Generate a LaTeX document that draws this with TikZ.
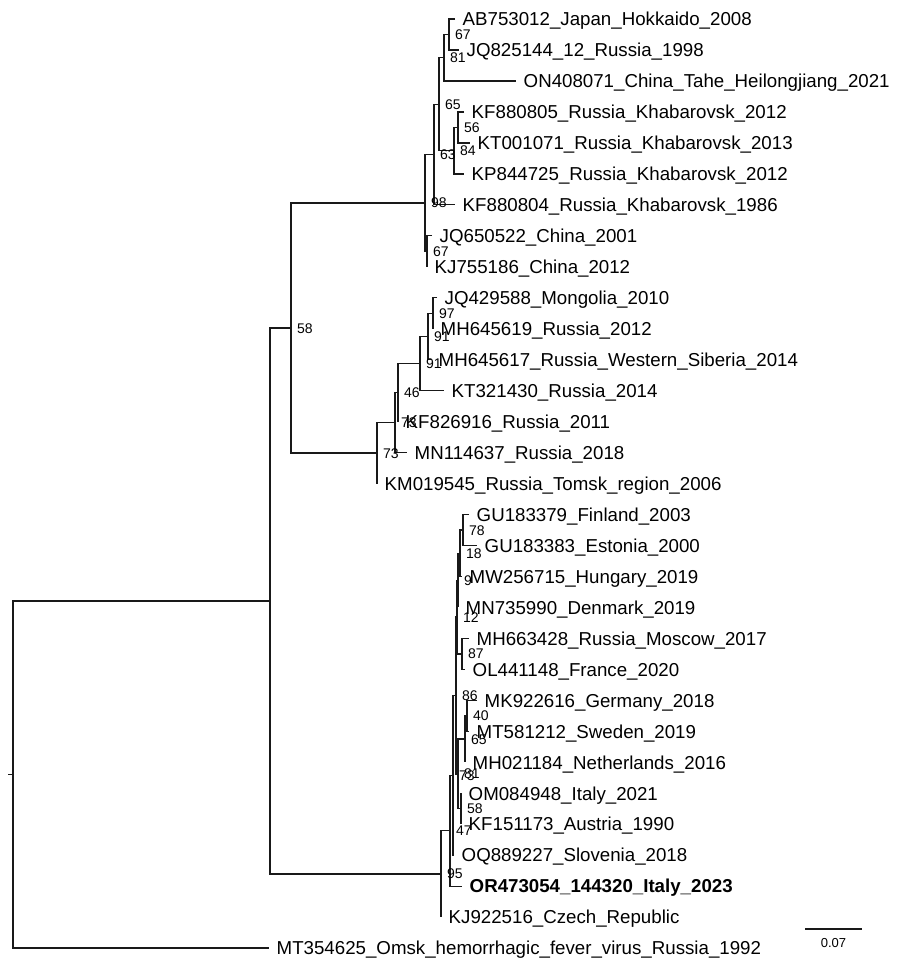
\documentclass[tikz,border=0pt]{standalone}
\usepackage{fontspec}
\setmainfont{Liberation Sans}
\usetikzlibrary{positioning}

\begin{document}
\begin{tikzpicture}[
    x=1pt, y=-1pt,
    % Node styles
    branch/.style={
        line width=1.3pt,
        draw=black!90
    },
    taxon/.style={
        anchor=west,
        inner xsep=7.5pt,
        inner ysep=0pt,
        text height=13.4pt,
        text depth=0pt,
        font=\fontsize{18.7}{20}\selectfont
    },
    target/.style={
        taxon,
        font=\fontsize{18.7}{20}\selectfont\bfseries
    },
    boot/.style={
        inner sep=0pt,
        text height=10pt,
        text depth=0pt,
        font=\fontsize{14}{14}\selectfont
    },
    scalelab/.style={
        inner sep=0pt,
        text height=9.3pt,
        text depth=0pt,
        font=\fontsize{13}{13}\selectfont
    },
    node distance=6pt
]
\useasboundingbox (0,0) rectangle (900,967);

    % ==== TAXA ====
    \node[taxon] (ab753012) at (455,19.0) {AB753012\_Japan\_Hokkaido\_2008};
    \node[taxon] (jq825144) at (459,50.0) {JQ825144\_12\_Russia\_1998};
    \node[taxon] (on408071) at (516,80.9) {ON408071\_China\_Tahe\_Heilongjiang\_2021};
    \node[taxon] (kf880805) at (464,111.9) {KF880805\_Russia\_Khabarovsk\_2012};
    \node[taxon] (kt001071) at (470,142.9) {KT001071\_Russia\_Khabarovsk\_2013};
    \node[taxon] (kp844725) at (464,173.9) {KP844725\_Russia\_Khabarovsk\_2012};
    \node[taxon] (kf880804) at (455,204.8) {KF880804\_Russia\_Khabarovsk\_1986};
    \node[taxon] (jq650522) at (432,235.8) {JQ650522\_China\_2001};
    \node[taxon] (kj755186) at (427,266.8) {KJ755186\_China\_2012};
    \node[taxon] (jq429588) at (437,297.7) {JQ429588\_Mongolia\_2010};
    \node[taxon] (mh645619) at (433,328.7) {MH645619\_Russia\_2012};
    \node[taxon] (mh645617) at (431,359.7) {MH645617\_Russia\_Western\_Siberia\_2014};
    \node[taxon] (kt321430) at (444,390.6) {KT321430\_Russia\_2014};
    \node[taxon] (kf826916) at (398,421.6) {KF826916\_Russia\_2011};
    \node[taxon] (mn114637) at (407,452.6) {MN114637\_Russia\_2018};
    \node[taxon] (km019545) at (377,483.6) {KM019545\_Russia\_Tomsk\_region\_2006};
    \node[taxon] (gu183379) at (469,514.5) {GU183379\_Finland\_2003};
    \node[taxon] (gu183383) at (477,545.5) {GU183383\_Estonia\_2000};
    \node[taxon] (mw256715) at (462,576.5) {MW256715\_Hungary\_2019};
    \node[taxon] (mn735990) at (458,607.4) {MN735990\_Denmark\_2019};
    \node[taxon] (mh663428) at (469,638.4) {MH663428\_Russia\_Moscow\_2017};
    \node[taxon] (ol441148) at (465,669.4) {OL441148\_France\_2020};
    \node[taxon] (mk922616) at (477,700.3) {MK922616\_Germany\_2018};
    \node[taxon] (mt581212) at (469,731.3) {MT581212\_Sweden\_2019};
    \node[taxon] (mh021184) at (465,762.3) {MH021184\_Netherlands\_2016};
    \node[taxon] (om084948) at (461,793.3) {OM084948\_Italy\_2021};
    \node[taxon] (kf151173) at (461,824.2) {KF151173\_Austria\_1990};
    \node[taxon] (oq889227) at (454,855.2) {OQ889227\_Slovenia\_2018};
    \node[target] (or473054) at (462,886.2) {OR473054\_144320\_Italy\_2023};
    \node[taxon] (kj922516) at (441,917.1) {KJ922516\_Czech\_Republic};
    \node[taxon] (mt354625) at (269,948.1) {MT354625\_Omsk\_hemorrhagic\_fever\_virus\_Russia\_1992};

    % ==== INTERNAL NODES ====
    \coordinate (stub) at (8,774.5);
    \coordinate (root) at (13,774.5);
    \coordinate (tbev) at (270,601.0);
    \coordinate (asian) at (291,328.0);
    % Far-Eastern
    \coordinate (fe) at (425,202.9);
    \coordinate (feA) at (434,154.5);
    \coordinate (feB) at (439,104.2);
    \coordinate (feC) at (444,57.7);
    \coordinate (japan) at (449,34.5);
    \coordinate (khab) at (454,150.6);
    \coordinate (khabA) at (458,127.4);
    \coordinate (china) at (427,251.3);
    % Siberian
    \coordinate (sib) at (377,453.1);
    \coordinate (sibA) at (395,422.6);
    \coordinate (sibB) at (398,392.6);
    \coordinate (sibC) at (420,363.5);
    \coordinate (sibD) at (428,336.4);
    \coordinate (mongol) at (433,313.2);
    % European
    \coordinate (eu) at (441,873.9);
    \coordinate (euA) at (450,830.7);
    \coordinate (euB) at (453,775.3);
    \coordinate (euC) at (456,695.5);
    \coordinate (euN) at (457,617.1);
    \coordinate (euN1) at (458,580.3);
    \coordinate (euN2) at (460,553.2);
    \coordinate (baltic) at (463,530.0);
    \coordinate (moscow) at (462,653.9);
    \coordinate (euS) at (458,773.9);
    \coordinate (euS1) at (465,739.0);
    \coordinate (germany) at (467,715.8);
    \coordinate (austria) at (461,808.7);

    % ==== BRANCHES ====
    \draw[branch] (stub) -- (root);
    \draw[branch] (tbev) -| (root) |- (mt354625.west);
    \draw[branch] (asian) -| (tbev) |- (eu);
    \draw[branch] (fe) -| (asian) |- (sib);

    % Far-Eastern
    \draw[branch] (feA) -| (fe) |- (china);
    \draw[branch] (feB) -| (feA) |- (kf880804.west);
    \draw[branch] (feC) -| (feB) |- (khab);
    \draw[branch] (japan) -| (feC) |- (on408071.west);
    \draw[branch] (ab753012.west) -| (japan) |- (jq825144.west);
    \draw[branch] (khabA) -| (khab) |- (kp844725.west);
    \draw[branch] (kf880805.west) -| (khabA) |- (kt001071.west);
    \draw[branch] (jq650522.west) -| (china) |- (kj755186.west);

    % Siberian
    \draw[branch] (sibA) -| (sib) |- (km019545.west);
    \draw[branch] (sibB) -| (sibA) |- (mn114637.west);
    \draw[branch] (sibC) -| (sibB) |- (kf826916.west);
    \draw[branch] (sibD) -| (sibC) |- (kt321430.west);
    \draw[branch] (mongol) -| (sibD) |- (mh645617.west);
    \draw[branch] (jq429588.west) -| (mongol) |- (mh645619.west);

    % European
    \draw[branch] (euA) -| (eu) |- (kj922516.west);
    \draw[branch] (euB) -| (euA) |- (or473054.west);
    \draw[branch] (euC) -| (euB) |- (oq889227.west);
    \draw[branch] (euN) -| (euC) |- (euS);
    \draw[branch] (euN1) -| (euN) |- (moscow);
    \draw[branch] (euN2) -| (euN1) |- (mn735990.west);
    \draw[branch] (baltic) -| (euN2) |- (mw256715.west);
    \draw[branch] (gu183379.west) -| (baltic) |- (gu183383.west);
    \draw[branch] (mh663428.west) -| (moscow) |- (ol441148.west);
    \draw[branch] (euS1) -| (euS) |- (austria);
    \draw[branch] (germany) -| (euS1) |- (mh021184.west);
    \draw[branch] (mk922616.west) -| (germany) |- (mt581212.west);
    \draw[branch] (om084948.west) -| (austria) |- (kf151173.west);

    % ==== BOOTSTRAP VALUES ====
    \node[boot, right=of asian] (bAsian) {58};
    \node[boot, right=of fe] (bFe) {98};
    \node[boot, right=of feA] (bFeA) {63};
    \node[boot, right=of feB] (bFeB) {65};
    \node[boot, right=of feC] (bFeC) {81};
    \node[boot, right=of japan] (bJapan) {67};
    \node[boot, right=of khab] (bKhab) {84};
    \node[boot, right=of khabA] (bKhabA) {56};
    \node[boot, right=of china] (bChina) {67};
    \node[boot, right=of sib] (bSib) {73};
    \node[boot, right=of sibA] (bSibA) {73};
    \node[boot, right=of sibB] (bSibB) {46};
    \node[boot, right=of sibC] (bSibC) {91};
    \node[boot, right=of sibD] (bSibD) {91};
    \node[boot, right=of mongol] (bMongol) {97};
    \node[boot, right=of eu] (bEu) {95};
    \node[boot, right=of euA] (bEuA) {47};
    \node[boot, right=of euB] (bEuB) {73};
    \node[boot, right=of euS] (bEuS) {81};
    \node[boot, right=of euC] (bEuC) {86};
    \node[boot, right=of euN] (bEuN) {12};
    \node[boot, right=of euN1] (bEuN1) {9};
    \node[boot, right=of euN2] (bEuN2) {18};
    \node[boot, right=of baltic] (bBaltic) {78};
    \node[boot, right=of moscow] (bMoscow) {87};
    \node[boot, right=of euS1] (bEuS1) {65};
    \node[boot, right=of germany] (bGermany) {40};
    \node[boot, right=of austria] (bAustria) {58};

    % ==== SCALE BAR ====
    \coordinate (barL) at (805,929);
    \coordinate (barR) at (862,929);
    \draw[branch] (barL) -- node[scalelab, below=8.5pt] (barlab) {0.07} (barR);

\end{tikzpicture}
\end{document}
